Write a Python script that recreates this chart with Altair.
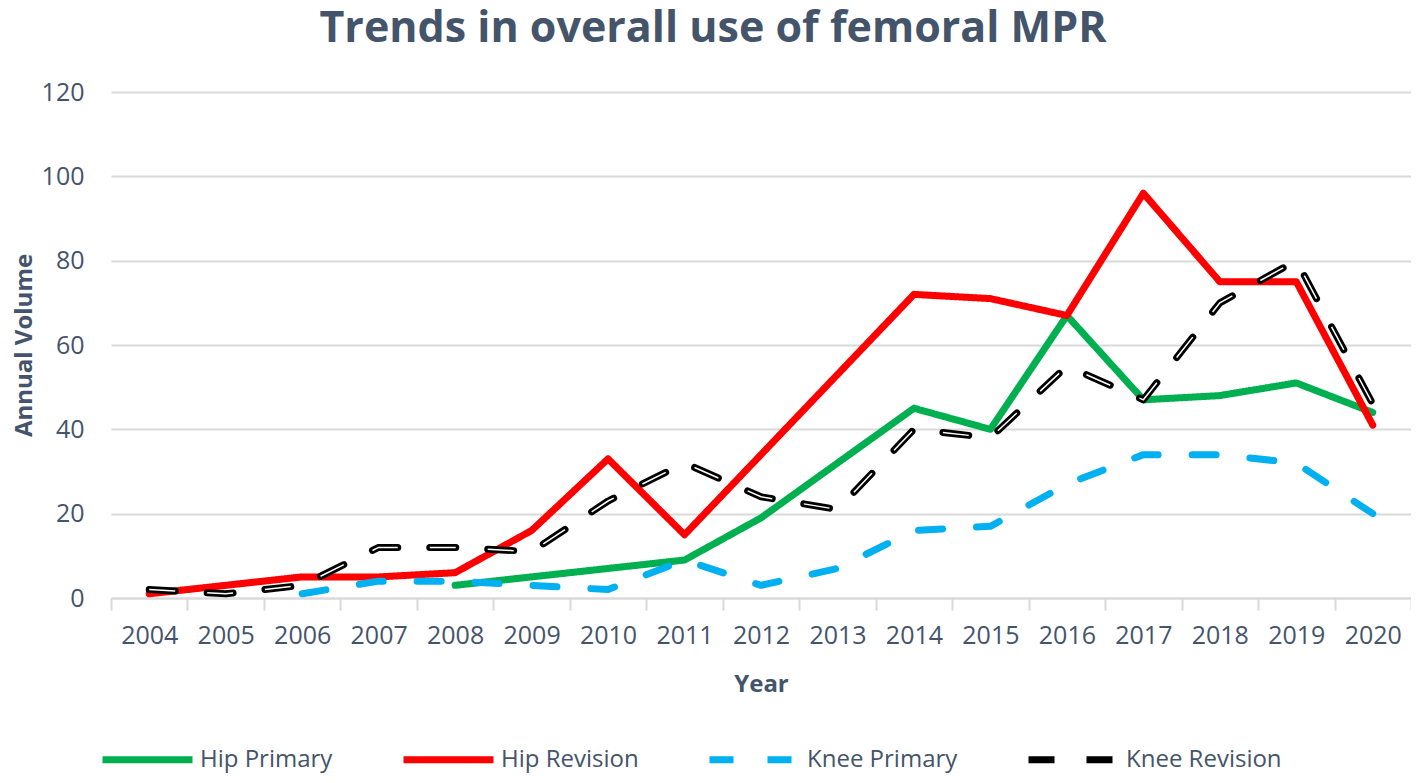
import altair as alt
import pandas as pd

years = [str(y) for y in range(2004, 2021)]

hip_primary = [None, None, None, None, 3, 5, 7, 9, 19, 32, 45, 40, 67, 47, 48, 51, 44]
hip_revision = [1, 3, 5, 5, 6, 16, 33, 15, 34, 53, 72, 71, 67, 96, 75, 75, 41]
knee_primary = [None, None, 1, 4, 4, 3, 2, 9, 3, 7, 16, 17, 27, 34, 34, 32, 20]
knee_revision = [2, 1, 3, 12, 12, 11, 23, 32, 24, 21, 40, 38, 55, 47, 70, 80, 46]

series_names = ["Hip Primary", "Hip Revision", "Knee Primary", "Knee Revision"]
series_values = [hip_primary, hip_revision, knee_primary, knee_revision]
series_colors = ["#00B050", "#FF0000", "#00B0F0", "#000000"]
series_dash = [[1, 0], [1, 0], [24, 34], [26, 32]]

rows = []
for name, vals in zip(series_names, series_values):
    for yr, v in zip(years, vals):
        if v is not None:
            rows.append({"Year": yr, "Volume": v, "Series": name})
df = pd.DataFrame(rows)

TXT = "#44546A"
FONT = "Open Sans"

x_enc = alt.X(
    "Year:O",
    bandPosition=0.5,
    sort=years,
    scale=alt.Scale(type="band", domain=years, paddingInner=0, paddingOuter=0),
    axis=alt.Axis(
        title="Year",
        labelAngle=0,
        tickBand="extent",
        ticks=True,
        tickSize=12,
        tickColor="#D9D9D9",
        tickWidth=2,
        domainColor="#D9D9D9",
        domainWidth=2,
        grid=False,
        labelPadding=13,
        titlePadding=24,
    ),
)
y_enc = alt.Y(
    "Volume:Q",
    scale=alt.Scale(domain=[0, 120], nice=False),
    axis=alt.Axis(
        title="Annual Volume",
        values=[0, 20, 40, 60, 80, 100, 120],
        grid=True,
        gridColor="#D9D9D9",
        gridWidth=2,
        domain=False,
        ticks=False,
        labelPadding=27,
        titlePadding=5,
    ),
)

legend_def = alt.Legend(
    title=None,
    orient="none",
    legendX=-12,
    legendY=619,
    direction="horizontal",
    symbolType="stroke",
    symbolSize=8100,
    symbolStrokeWidth=7,
    labelFontSize=24,
    labelColor=TXT,
    labelFont=FONT,
    labelOffset=4,
    labelLimit=400,
    columnPadding=56,
)

lines = alt.Chart(df).mark_line(strokeWidth=7, strokeCap="round", strokeJoin="round").encode(
    x=x_enc,
    y=y_enc,
    color=alt.Color(
        "Series:N",
        sort=series_names,
        scale=alt.Scale(domain=series_names, range=series_colors),
        legend=legend_def,
    ),
    strokeDash=alt.StrokeDash(
        "Series:N",
        sort=series_names,
        scale=alt.Scale(domain=series_names, range=series_dash),
        legend=legend_def,
    ),
    order=alt.Order("Year:O"),
)

inner = alt.Chart(df[df["Series"] == "Knee Revision"]).mark_line(
    strokeWidth=1.5, color="white", strokeDash=[26, 32], strokeCap="butt"
).encode(x=x_enc, y=y_enc)

chart = (
    alt.layer(lines, inner)
    .properties(
        width=1300,
        height=506,
        padding={"left": 103, "top": 84, "right": 0, "bottom": 177},
        autosize=alt.AutoSizeParams(type="none"),
        title=alt.TitleParams(
            "Trends in overall use of femoral MPR",
            fontSize=43,
            font=FONT,
            fontWeight="bold",
            color=TXT,
            anchor="middle",
            offset=29,
            dx=-48,
        ),
    )
    .configure_view(stroke=None)
    .configure_axis(
        labelFont=FONT,
        titleFont=FONT,
        labelFontSize=25,
        titleFontSize=24,
        labelColor=TXT,
        titleColor=TXT,
        titleFontWeight="bold",
    )
)

chart.save("out.html", embed_options={"renderer": "svg", "actions": False})
